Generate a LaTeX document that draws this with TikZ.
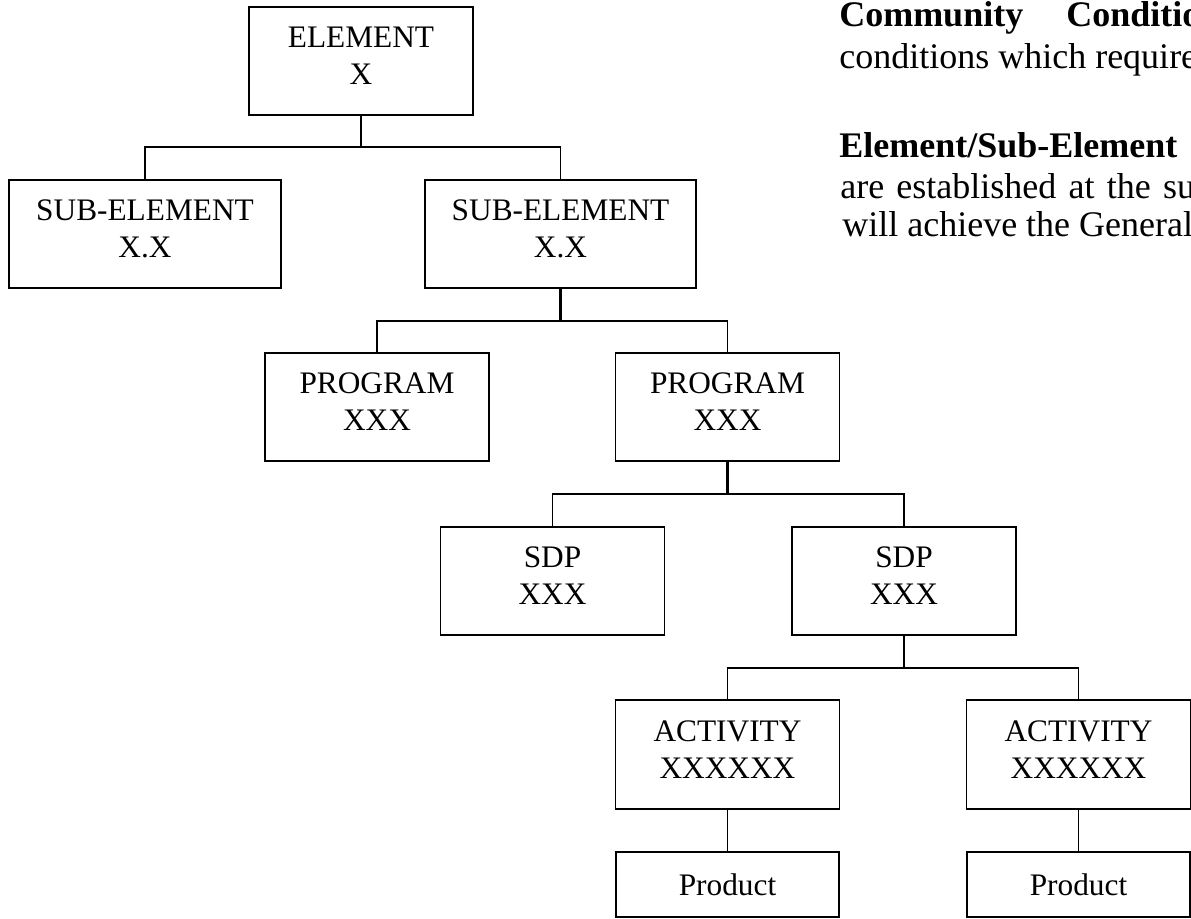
\documentclass[tikz,border=0pt]{standalone}
\usepackage{fontspec}
\setmainfont{Liberation Serif}
\begin{document}
\begin{tikzpicture}[x=0.75pt,y=-0.75pt,
  box/.style={draw,line width=1.3pt,inner sep=0pt,minimum height=81pt,align=center,
    font=\fontsize{23.5}{27.75}\selectfont,execute at end node={\rule[-7.5pt]{0pt}{7.5pt}}},
  wA/.style={minimum width=168pt},
  wB/.style={minimum width=203.5pt},
  prodbox/.style={draw,line width=1.3pt,inner sep=0pt,minimum width=167.5pt,minimum height=48.75pt,
    font=\fontsize{23.5}{27.75}\selectfont},
  stem/.style={line width=1.6pt},
  link/.style={line width=1.2pt},
  thin/.style={line width=0.9pt},
  para/.style={anchor=base west,inner sep=0pt,font=\fontsize{27}{31}\selectfont},
  parab/.style={para,font=\fontsize{27}{31}\selectfont\bfseries}]
\useasboundingbox (0,0) rectangle (1191,918);
\fill[white] (0,0) rectangle (1191,918);
% boxes
\node[box,wA] (el) at (361,61) {ELEMENT\\X};
\node[box,wB] (se1) at (145,234) {SUB-ELEMENT\\X.X};
\node[box,wB] (se2) at (560.5,234) {SUB-ELEMENT\\X.X};
\node[box,wA] (pr1) at (377,407) {PROGRAM\\XXX};
\node[box,wA] (pr2) at (727.5,407) {PROGRAM\\XXX};
\node[box,wA] (sd1) at (552.5,581) {SDP\\XXX};
\node[box,wA] (sd2) at (904,581) {SDP\\XXX};
\node[box,wA,minimum height=81.75pt] (ac1) at (727.5,754.5) {ACTIVITY\\XXXXXX};
\node[box,wA,minimum height=81.75pt] (ac2) at (1078.5,754.5) {ACTIVITY\\XXXXXX};
\node[prodbox] (pd1) at (727.5,884.5) {Product};
\node[prodbox] (pd2) at (1078.5,884.5) {Product};
% bus points
\coordinate (b1) at (361,147);
\coordinate (b2) at (560.5,321);
\coordinate (b3) at (727.5,494);
\coordinate (b4) at (904,668);
% connectors
\draw[stem] (el.south) -- (b1);
\draw[link] (se1.north) |- (b1) -| (se2.north);
\draw[stem] (se2.south) -- (b2);
\draw[link] (pr1.north) |- (b2) -| (pr2.north);
\draw[stem] (pr2.south) -- (b3);
\draw[link] (sd1.north) |- (b3) -| (sd2.north);
\draw[stem] (sd2.south) -- (b4);
\draw[link] (ac1.north) |- (b4) -| (ac2.north);
\draw[thin] (ac1.south) -- (pd1.north);
\draw[thin] (ac2.south) -- (pd2.north);
% side text
\begin{scope}
\clip (0,0) rectangle (1191,918);
\node[parab] (t1a) at (839,26) {Community};
\node[parab] (t1b) at (1066,26) {Conditions};
\node[para] (t2) at (839,68) {conditions which require};
\node[parab] (t3) at (839,157) {Element/Sub-Element};
\node[para] (t4) at (840,198) {\spaceskip=0.34em are established at the sub-element};
\node[para] (t5) at (842,236) {will achieve the General};
\end{scope}
\end{tikzpicture}
\end{document}
